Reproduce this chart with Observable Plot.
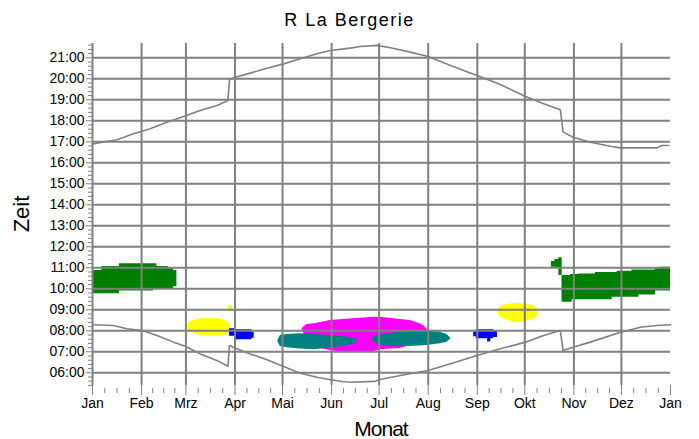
<!DOCTYPE html>
<html><head><meta charset="utf-8">
<script src="https://cdn.jsdelivr.net/npm/d3@7"></script>
<script src="https://cdn.jsdelivr.net/npm/@observablehq/plot@0.6"></script>
<style>
body{margin:0;background:#fff;}
#wrap{position:relative;width:699px;height:439px;font-family:"Liberation Sans",Arial,sans-serif;color:#000;overflow:hidden;}
#title{position:absolute;left:0;width:699px;top:11px;line-height:18px;text-align:center;font-size:18px;letter-spacing:1.5px;}
#chart{position:absolute;left:0;top:34px;}
#xl{position:absolute;left:281px;width:200px;top:418px;line-height:21px;font-size:21px;letter-spacing:-1px;text-align:center;}
#yl{position:absolute;left:0;top:0;width:60px;line-height:22px;font-size:22px;text-align:center;transform-origin:50% 50%;}
</style></head>
<body><div id="wrap">
<div id="title">R La Bergerie</div>
<div id="chart"></div>
<div id="xl">Monat</div>
<div id="yl">Zeit</div>
</div>
<script>
// axis categories
const monthStarts = [0,31,59,90,120,151,181,212,243,273,304,334,365];
const monthLabels = ["Jan","Feb","Mrz","Apr","Mai","Jun","Jul","Aug","Sep","Okt","Nov","Dez","Jan"];
const hourTicks = [6,7,8,9,10,11,12,13,14,15,16,17,18,19,20,21];

// sunset (upper gray line): day of year, hour
const sunsetDay  = [0,15.4,25.9,36.4,47,57.5,68,78.6,85.5,86.5,89.1,99.6,110.2,120.7,131.2,141.8,150.2,162.8,169.1,179.7,188.1,200.7,211.9,226.1,242.8,257.6,273.4,284.9,295.4,297.2,303.5,314.4,327,333.4,356.5,359.7,363.9];
const sunsetHour = [16.90,17.10,17.38,17.62,17.93,18.20,18.49,18.73,18.97,19.95,20.05,20.27,20.50,20.71,20.95,21.19,21.35,21.46,21.54,21.59,21.48,21.27,21.06,20.63,20.16,19.73,19.16,18.81,18.52,17.46,17.22,16.98,16.79,16.71,16.71,16.82,16.82];

// sunrise (lower gray line)
const sunriseDay  = [0,13.3,21.7,31.6,40.7,51.2,59,68,78.6,85.5,86.5,90.3,99.6,110.2,120.3,131.2,141.8,150.6,158.6,162.8,178.6,180.7,194.4,211.9,226.1,242.8,257.6,273.4,284.9,295.4,297.2,303.5,314.4,333.4,346,356.5,365];
const sunriseHour = [8.29,8.25,8.10,8.01,7.78,7.46,7.25,6.90,6.59,6.31,7.30,7.17,6.90,6.62,6.31,5.98,5.79,5.67,5.57,5.55,5.59,5.67,5.87,6.11,6.43,6.82,7.14,7.46,7.78,8.01,7.06,7.22,7.46,7.93,8.17,8.25,8.29];

// observation clusters: day, low hour, high hour
const greenWinterDay = [0,5.9,17,38.5,40.7,48,51.2,53.3];
const greenWinterLo  = [9.76,9.76,9.89,10.0,10.0,10.0,10.1,10.3];
const greenWinterHi  = [10.87,11.06,11.19,11.19,11.06,10.95,10.87,10.7];

const yellowMarDay = [60,60.7,63.8,68,80.7,84.9,87,87.4];
const yellowMarLo  = [8.17,7.98,7.90,7.78,7.78,7.81,7.93,8.13];
const yellowMarHi  = [8.17,8.40,8.49,8.57,8.57,8.44,8.33,8.13];

const yellowDotDay = [85.9,88.4];
const yellowDotLo  = [8.92,8.92];
const yellowDotHi  = [9.20,9.20];

const blueAprDay = [86.5,90.1,100.7,102.1];
const blueAprLo  = [7.74,7.57,7.65,7.65];
const blueAprHi  = [8.10,8.05,7.93,7.93];

const magentaDay = [132.3,135,141.8,150.2,158.4,167,177.3,181.7,194.4,200.7,204.9,208,210.1,212];
const magentaLo  = [8.10,7.54,7.20,7.05,6.98,6.97,6.99,7.10,7.16,7.30,7.44,7.63,7.87,8.01];
const magentaHi  = [8.10,8.29,8.36,8.49,8.54,8.59,8.65,8.65,8.54,8.49,8.38,8.30,8.17,8.01];

const teal1Day = [116.9,118.6,122.8,131.2,139.6,150.2,160.7,166,167.4];
const teal1Lo  = [7.50,7.25,7.19,7.13,7.10,7.17,7.30,7.38,7.50];
const teal1Hi  = [7.50,7.78,7.82,7.86,7.82,7.78,7.70,7.62,7.50];

const teal2Day = [176.5,178.6,183.8,190.1,200.7,211.2,219.6,223.9,226.4];
const teal2Lo  = [7.57,7.38,7.30,7.25,7.25,7.30,7.38,7.46,7.62];
const teal2Hi  = [7.57,7.78,7.82,7.89,7.98,8.01,7.93,7.82,7.62];

const blueSepDay = [240.7,242.3,249.5,251.5,253.3,255.8];
const blueSepLo  = [7.72,7.62,7.47,7.62,7.68,7.75];
const blueSepHi  = [7.93,8.05,8.05,8.05,7.98,7.90];

const yellowSepDay = [255.5,257.6,261.8,263.9,268.1,272.3,278.6,281.2,281.7];
const yellowSepLo  = [8.93,8.65,8.52,8.46,8.38,8.46,8.55,8.70,8.85];
const yellowSepHi  = [8.93,9.16,9.25,9.27,9.29,9.29,9.20,9.00,8.85];

const greenKnobDay = [289.8,292.0,294.5,296.6];
const greenKnobLo  = [11.03,10.98,10.63,10.63];
const greenKnobHi  = [11.30,11.40,11.48,11.48];

const greenAutumnDay = [296.5,301.8,302.9,307,317.6,328.2,331.3,340.7,345,355.5,358.6,365];
const greenAutumnLo  = [9.36,9.36,9.48,9.48,9.48,9.60,9.60,9.60,9.71,9.89,9.89,9.89];
const greenAutumnHi  = [10.63,10.68,10.68,10.71,10.78,10.78,10.84,10.90,10.90,10.95,11.03,11.03];

const GREEN = "#008000", YELLOW = "#ffff00", BLUE = "#0000ff", MAGENTA = "#ff00ff", TEAL = "#008080";
const GRAY = "#808080";

const blobs = [
  [greenWinterDay, greenWinterLo, greenWinterHi, GREEN, "step-after"],
  [yellowMarDay, yellowMarLo, yellowMarHi, YELLOW, "linear"],
  [yellowDotDay, yellowDotLo, yellowDotHi, YELLOW, "step-after"],
  [blueAprDay, blueAprLo, blueAprHi, BLUE, "step-after"],
  [magentaDay, magentaLo, magentaHi, MAGENTA, "linear"],
  [teal1Day, teal1Lo, teal1Hi, TEAL, "linear"],
  [teal2Day, teal2Lo, teal2Hi, TEAL, "linear"],
  [blueSepDay, blueSepLo, blueSepHi, BLUE, "step-after"],
  [yellowSepDay, yellowSepLo, yellowSepHi, YELLOW, "linear"],
  [greenKnobDay, greenKnobLo, greenKnobHi, GREEN, "step-after"],
  [greenAutumnDay, greenAutumnLo, greenAutumnHi, GREEN, "step-after"]
];

// minor ticks: quarter months, 12 minutes
const minorX = [];
for (let i = 0; i < 12; i++) {
  const a = monthStarts[i], b = monthStarts[i + 1];
  for (let k = 1; k < 4; k++) minorX.push(a + (b - a) * k / 4);
}
const minorY = d3.range(27, 109).map(i => i / 5).filter(v => Math.abs(v - Math.round(v)) > 1e-6);

const fmtHour = h => String(h).padStart(2, "0") + ":00";

const marks = [];
for (const [day, lo, hi, color, curve] of blobs) {
  marks.push(Plot.areaY(d3.range(day.length), {x: i => day[i], y1: i => lo[i], y2: i => hi[i], fill: color, curve}));
}
marks.push(
  Plot.ruleY(hourTicks, {stroke: GRAY, strokeWidth: 2}),
  Plot.ruleX(monthStarts.slice(0, 12), {stroke: GRAY, strokeWidth: 2}),
  Plot.line(d3.range(sunsetDay.length), {x: i => sunsetDay[i], y: i => sunsetHour[i], stroke: GRAY, strokeWidth: 1.6}),
  Plot.line(d3.range(sunriseDay.length), {x: i => sunriseDay[i], y: i => sunriseHour[i], stroke: GRAY, strokeWidth: 1.6}),
  Plot.axisY(hourTicks, {tickSize: 6, tickPadding: 2, stroke: GRAY, fill: "black", fontSize: 14, tickFormat: fmtHour, label: null}),
  Plot.axisY(minorY, {tickSize: 4, stroke: GRAY, fill: "none", label: null}),
  Plot.axisX(monthStarts, {tickSize: 10, tickPadding: 3, stroke: GRAY, fill: "black", fontSize: 14, tickFormat: d => monthLabels[monthStarts.indexOf(d)], label: null}),
  Plot.axisX(minorX, {tickSize: 5, dy: 3, stroke: GRAY, fill: "none", label: null})
);

const chart = Plot.plot({
  width: 699,
  height: 405,
  marginTop: 9,
  marginBottom: 54,
  marginLeft: 92,
  marginRight: 29,
  style: {fontFamily: "'Liberation Sans', Arial, sans-serif", background: "white", color: "black"},
  x: {domain: [0, 365]},
  y: {domain: [5.395, 21.68]},
  marks
});
document.getElementById("chart").appendChild(chart);

const yl = document.getElementById("yl");
yl.style.left = (22.4 - 30) + "px";
yl.style.top = (214 - 11) + "px";
yl.style.transform = "rotate(-90deg)";
</script>
</body></html>
